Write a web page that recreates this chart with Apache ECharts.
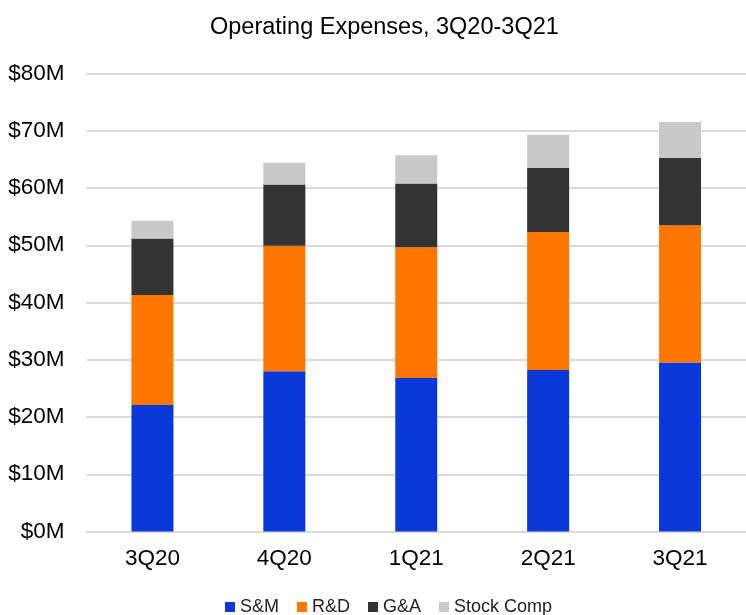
<!DOCTYPE html>
<html>
<head>
<meta charset="utf-8">
<script src="https://cdn.jsdelivr.net/npm/echarts@6/dist/echarts.min.js"></script>
<style>
html,body{margin:0;padding:0;background:#fff;}
#chart{width:746px;height:615px;}
</style>
</head>
<body>
<div id="chart"></div>
<script>
const categories = ['3Q20', '4Q20', '1Q21', '2Q21', '3Q21'];
const smValues = [22.1, 28.0, 26.8, 28.2, 29.5];
const rdValues = [19.2, 21.9, 22.85, 24.1, 24.0];
const gaValues = [9.9, 10.7, 11.15, 11.25, 11.75];
const stockValues = [3.1, 3.8, 4.9, 5.75, 6.3];
const seriesNames = ['S&M', 'R&D', 'G&A', 'Stock Comp'];
const yTicks = [0, 10, 20, 30, 40, 50, 60, 70, 80];

const colors = ['#0b38d9', '#ff7700', '#333333', '#c9c9c9'];
const font = 'Liberation Sans, Arial, sans-serif';

const chart = echarts.init(document.getElementById('chart'));
const allData = [smValues, rdValues, gaValues, stockValues];
chart.setOption({
  animation: false,
  backgroundColor: '#ffffff',
  title: {
    text: 'Operating Expenses, 3Q20-3Q21',
    left: 205,
    top: 11,
    textStyle: { fontFamily: font, fontSize: 23.5, fontWeight: 'normal', color: '#000' }
  },
  legend: {
    data: seriesNames,
    top: 593,
    left: 220,
    itemWidth: 10,
    itemHeight: 10,
    itemGap: 18,
    icon: 'rect',
    textStyle: { fontFamily: font, fontSize: 18, color: '#222' }
  },
  grid: { left: 86.5, right: -4, top: 73.5, bottom: 83.5, containLabel: false },
  xAxis: {
    type: 'category',
    data: categories,
    axisLine: { lineStyle: { color: '#dadada', width: 2 } },
    axisTick: { show: false },
    axisLabel: { fontFamily: font, fontSize: 22.5, color: '#000', margin: 16 }
  },
  yAxis: {
    type: 'value',
    min: yTicks[0],
    max: yTicks[yTicks.length - 1],
    interval: 10,
    axisLine: { show: false },
    axisTick: { show: false },
    splitLine: { lineStyle: { color: '#dadada', width: 2 } },
    axisLabel: { fontFamily: font, fontSize: 22.5, color: '#000', margin: 22,
      formatter: v => '$' + v + 'M' }
  },
  series: seriesNames.map((name, i) => ({
    name: name,
    type: 'bar',
    stack: 'total',
    barWidth: 42,
    data: allData[i],
    itemStyle: { color: colors[i] }
  }))
});
</script>
</body>
</html>
